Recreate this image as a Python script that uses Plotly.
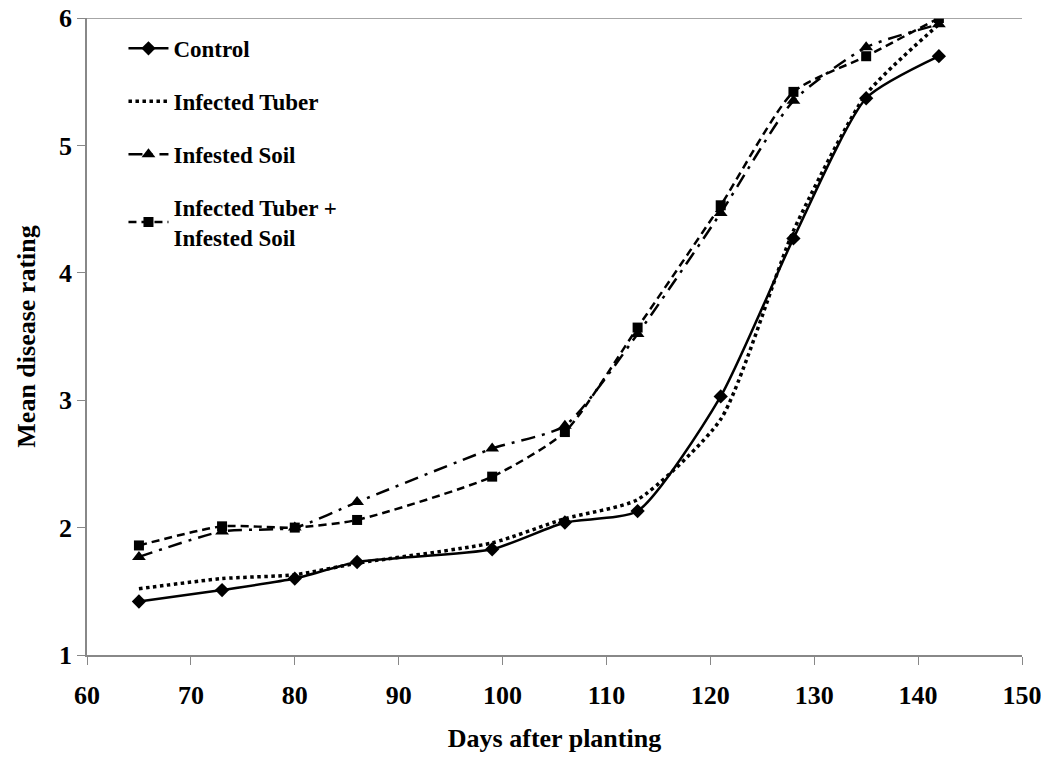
import plotly.graph_objects as go

days = [65, 73, 80, 86, 99, 106, 113, 121, 128, 135, 142]
control = [1.42, 1.51, 1.60, 1.73, 1.83, 2.04, 2.13, 3.03, 4.27, 5.37, 5.70]
infected_tuber = [1.52, 1.60, 1.63, 1.72, 1.88, 2.07, 2.22, 2.85, 4.33, 5.40, 5.95]
infested_soil = [1.77, 1.97, 2.00, 2.20, 2.62, 2.80, 3.52, 4.47, 5.35, 5.77, 5.95]
tuber_soil = [1.86, 2.01, 2.00, 2.06, 2.40, 2.75, 3.57, 4.53, 5.42, 5.70, 6.00]

names = ["Control", "Infected Tuber", "Infested Soil", "Infected Tuber +<br>Infested Soil"]

FONT = "Liberation Serif"
fig = go.Figure()

fig.add_trace(go.Scatter(
    x=days, y=control, name=names[0], mode="lines+markers",
    line=dict(color="black", width=2.5, shape="spline", smoothing=0.6),
    marker=dict(symbol="diamond", size=11, color="black"), legendgroup="a"))
fig.add_trace(go.Scatter(
    x=days, y=infected_tuber, name=names[1], mode="lines",
    line=dict(color="black", width=3.5, dash="dot", shape="spline", smoothing=0.6),
    legendgroup="b"))
fig.add_trace(go.Scatter(
    x=days, y=infested_soil, name=names[2], mode="lines+markers",
    line=dict(color="black", width=2.5, dash="14px,7px,3px,7px", shape="spline", smoothing=0.6),
    marker=dict(symbol="triangle-up", size=12, color="black"), legendgroup="c"))
fig.add_trace(go.Scatter(
    x=days, y=tuber_soil, name=names[3], mode="lines+markers",
    line=dict(color="black", width=2.5, dash="8px,5px", shape="spline", smoothing=0.6),
    marker=dict(symbol="square", size=10, color="black"), legendgroup="d"))

fig.add_shape(type="line", xref="paper", yref="y", x0=0, x1=1, y0=6, y1=6,
              line=dict(color="#888888", width=1.5))

fig.update_layout(
    width=1049, height=757,
    margin=dict(l=79, r=35, t=10, b=110),
    plot_bgcolor="white", paper_bgcolor="white",
    font=dict(family=FONT, color="black", size=24),
    showlegend=True,
    legend=dict(x=0.039, y=0.986, xanchor="left", yanchor="top",
                font=dict(family=FONT, size=23, color="black", weight="bold"),
                bgcolor="rgba(0,0,0,0)", tracegroupgap=20, itemwidth=40,
                traceorder="grouped"),
    xaxis=dict(range=[60, 150], dtick=10, tick0=60, showgrid=False, zeroline=False,
               showline=True, linecolor="#888888", linewidth=1.5, automargin=False,
               ticks="outside", ticklen=8, tickcolor="#888888", ticklabelstandoff=8,
               ticklabeloverflow="allow",
               tickfont=dict(family=FONT, size=26, color="black", weight="bold"),
               title=dict(text="<b>Days after planting</b>", font=dict(family=FONT, size=26), standoff=20)),
    yaxis=dict(range=[1, 6], dtick=1, showgrid=False, zeroline=False,
               showline=True, linecolor="#888888", linewidth=1.5, automargin=False,
               ticks="outside", ticklen=8, tickcolor="#888888",
               ticklabeloverflow="allow",
               tickfont=dict(family=FONT, size=26, color="black", weight="bold"),
               title=dict(text="<b>Mean disease rating</b>", font=dict(family=FONT, size=26), standoff=16)),
)

fig.write_html("out.html")
